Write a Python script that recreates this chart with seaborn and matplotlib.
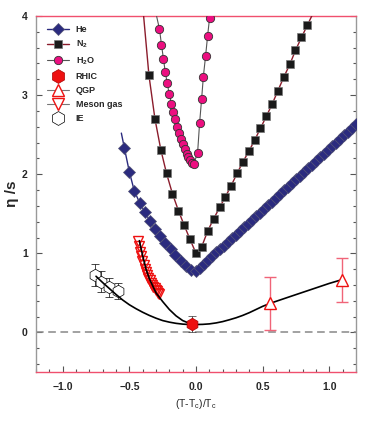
import matplotlib

matplotlib.use("Agg")

import matplotlib.pyplot as plt
import seaborn as sns
from matplotlib.lines import Line2D
from matplotlib.ticker import MultipleLocator

# ---- data -------------------------------------------------------------
# He: first point is line-only (curve continues above first marker)
he_x = [-0.56, -0.537, -0.50, -0.463, -0.423, -0.383, -0.346, -0.308, -0.269,
        -0.229, -0.19, -0.154, -0.114, -0.077, -0.037, 0.0, 0.03, 0.06, 0.09,
        0.12, 0.15, 0.18, 0.21, 0.24, 0.27, 0.30, 0.33, 0.36, 0.39, 0.42, 0.45,
        0.48, 0.51, 0.54, 0.57, 0.60, 0.63, 0.66, 0.69, 0.72, 0.75, 0.78, 0.81,
        0.84, 0.87, 0.90, 0.93, 0.96, 0.99, 1.02, 1.05, 1.08, 1.11, 1.14, 1.17,
        1.20]
he_y = [2.52, 2.33, 2.03, 1.79, 1.64, 1.52, 1.41, 1.31, 1.22, 1.135, 1.05,
        0.975, 0.90, 0.84, 0.79, 0.78, 0.82, 0.87, 0.92, 0.97, 1.02, 1.06,
        1.095, 1.14, 1.19, 1.235, 1.28, 1.33, 1.375, 1.42, 1.47, 1.515, 1.56,
        1.61, 1.655, 1.70, 1.75, 1.795, 1.84, 1.89, 1.935, 1.98, 2.03, 2.075,
        2.12, 2.17, 2.215, 2.26, 2.31, 2.355, 2.40, 2.45, 2.495, 2.54, 2.59,
        2.635]

# N2: first and last points are line-only (curve runs off the top)
n2_x = [-0.393, -0.353, -0.308, -0.264, -0.221, -0.177, -0.132, -0.09, -0.045,
        0.0, 0.042, 0.087, 0.132, 0.177, 0.219, 0.264, 0.308, 0.35, 0.396,
        0.44, 0.483, 0.527, 0.572, 0.614, 0.659, 0.704, 0.746, 0.791, 0.836,
        0.868]
n2_y = [4.0, 3.25, 2.70, 2.31, 2.01, 1.755, 1.54, 1.36, 1.177, 1.0, 1.08,
        1.28, 1.435, 1.58, 1.71, 1.857, 2.01, 2.15, 2.29, 2.43, 2.58, 2.73,
        2.89, 3.055, 3.23, 3.39, 3.565, 3.73, 3.886, 4.0]

# H2O: first point is line-only
h2o_x = [-0.296, -0.274, -0.259, -0.244, -0.231, -0.216, -0.201, -0.184,
         -0.169, -0.154, -0.139, -0.124, -0.112, -0.097, -0.085, -0.070,
         -0.057, -0.045, -0.032, -0.015, 0.012, 0.027, 0.042, 0.055, 0.072,
         0.087, 0.102]
h2o_y = [4.0, 3.835, 3.637, 3.456, 3.295, 3.152, 3.013, 2.894, 2.789, 2.692,
         2.60, 2.515, 2.443, 2.376, 2.316, 2.26, 2.215, 2.177, 2.148, 2.135,
         2.274, 2.65, 2.95, 3.232, 3.498, 3.75, 3.98]

meson_x = [-0.435, -0.427, -0.419, -0.411, -0.402, -0.393, -0.384, -0.375,
           -0.366, -0.357, -0.348, -0.339, -0.330, -0.320, -0.311, -0.302,
           -0.293, -0.284, -0.275]
meson_y = [1.16, 1.09, 1.02, 0.96, 0.90, 0.85, 0.80, 0.76, 0.72, 0.69, 0.66,
           0.63, 0.60, 0.58, 0.56, 0.54, 0.52, 0.50, 0.48]

rhic_x = [-0.027]
rhic_y = [0.105]
rhic_err = [0.1]

qgp_x = [0.557, 1.092]
qgp_y = [0.367, 0.662]
qgp_err = [0.34, 0.275]

ie_x = [-0.754, -0.711, -0.649, -0.587]
ie_y = [0.726, 0.641, 0.57, 0.527]
ie_err = [0.14, 0.13, 0.12, 0.10]

# black guide curves
fit_ie_x = [-0.75, -0.70, -0.65, -0.60, -0.55, -0.50, -0.45, -0.40, -0.35,
            -0.30, -0.25, -0.20, -0.15, -0.10, -0.05, 0.0, 0.05, 0.10, 0.15,
            0.20, 0.25, 0.30, 0.35, 0.40, 0.45, 0.50, 0.56, 0.70, 0.85, 1.0,
            1.09]
fit_ie_y = [0.71, 0.63, 0.555, 0.48, 0.41, 0.35, 0.30, 0.255, 0.215, 0.18,
            0.15, 0.13, 0.115, 0.105, 0.10, 0.10, 0.102, 0.108, 0.12, 0.137,
            0.16, 0.185, 0.215, 0.25, 0.29, 0.33, 0.37, 0.45, 0.535, 0.62,
            0.665]
fit_meson_x = [-0.425, -0.40, -0.375, -0.35, -0.30, -0.25, -0.20, -0.15,
               -0.10, -0.05, 0.0]
fit_meson_y = [1.16, 0.97, 0.80, 0.68, 0.50, 0.39, 0.29, 0.21, 0.15, 0.115,
               0.10]

# ---- styling -----------------------------------------------------------
sns.set_theme(style="ticks")
plt.rcParams["font.family"] = ["Liberation Sans", "DejaVu Sans"]
plt.rcParams["mathtext.fontset"] = "custom"
plt.rcParams["mathtext.rm"] = "Liberation Sans"
plt.rcParams["mathtext.bf"] = "Liberation Sans:bold"
plt.rcParams["mathtext.default"] = "rm"

NAVY = "#2b2b7f"
DARKRED = "#8b1c2c"
MAGENTA = "#ec0f80"
RED = "#ee1111"
PINK = "#f06478"
SPINE_RED = "#f0506e"

fig = plt.figure(figsize=(3.86, 4.26), dpi=100)
ax = fig.add_axes([0.0933, 0.1268, 0.829, 0.8356])

ax.axhline(0, color="#888888", lw=1.1, ls=(0, (5, 3)), zorder=1)

sns.lineplot(x=fit_ie_x, y=fit_ie_y, color="black", lw=1.2, sort=False,
             ax=ax, zorder=4)
sns.lineplot(x=fit_meson_x, y=fit_meson_y, color="black", lw=1.2, sort=False,
             ax=ax, zorder=4)

sns.lineplot(x=he_x, y=he_y, color=NAVY, lw=1.0, marker="D", ms=6.3,
             mfc=NAVY, mec="#555577", mew=0.5, markevery=list(range(1, len(he_x))),
             sort=False, ax=ax, zorder=3)
sns.lineplot(x=n2_x, y=n2_y, color=DARKRED, lw=1.0, marker="s", ms=5.4,
             mfc="#1a1a1a", mec="#777777", mew=0.5,
             markevery=list(range(1, len(n2_x) - 1)), sort=False, ax=ax, zorder=3)
sns.lineplot(x=h2o_x, y=h2o_y, color="#555555", lw=0.8, marker="o", ms=6,
             mfc=MAGENTA, mec="#333333", mew=0.6,
             markevery=list(range(1, len(h2o_x))), sort=False, ax=ax, zorder=3)

sns.lineplot(x=meson_x, y=meson_y, color=RED, lw=0, marker="v", ms=7,
             mfc="none", mec=RED, mew=1.0, sort=False, ax=ax, zorder=3)

ax.errorbar(ie_x, ie_y, yerr=ie_err, fmt="h", ms=9, mfc="white", mec="black",
            mew=0.5, ecolor="black", elinewidth=0.5, capsize=3, capthick=0.5,
            zorder=3)
ax.errorbar(rhic_x, rhic_y, yerr=rhic_err, fmt="h", ms=9, mfc=RED,
            mec="#aa0000", mew=0.5, ecolor="#333333", elinewidth=0.6,
            capsize=3, capthick=0.6, zorder=5)
ax.errorbar(qgp_x, qgp_y, yerr=qgp_err, fmt="^", ms=8, mfc="white", mec=RED,
            mew=1.0, ecolor=PINK, elinewidth=1.0, capsize=4, capthick=1.0,
            zorder=5)

ax.set_xlim(-1.2, 1.2)
ax.set_ylim(-0.5, 4.0)
ax.xaxis.set_major_locator(MultipleLocator(0.5))
ax.xaxis.set_minor_locator(MultipleLocator(0.1))
ax.yaxis.set_major_locator(MultipleLocator(1))
ax.yaxis.set_minor_locator(MultipleLocator(0.2))
ax.tick_params(which="both", direction="in", right=True, top=False,
               color="#555555", width=0.8, labelsize=7.5)
ax.tick_params(axis="x", pad=7)
ax.tick_params(axis="y", pad=6)
ax.tick_params(which="major", length=4)
ax.tick_params(which="minor", length=2.5)
for lab in ax.get_xticklabels() + ax.get_yticklabels():
    lab.set_fontweight("bold")

for side in ("top", "bottom"):
    ax.spines[side].set_color(SPINE_RED)
    ax.spines[side].set_linewidth(1.0)
for side in ("left", "right"):
    ax.spines[side].set_color("#999999")
    ax.spines[side].set_linewidth(1.0)

ax.set_xlabel(r"(T-T$_{\rm c}$)/T$_{\rm c}$", fontsize=7.5, labelpad=4)
ax.set_ylabel("η /s", fontsize=11, fontweight="bold", labelpad=2)

handles = [
    Line2D([], [], color=NAVY, lw=1.0, marker="D", ms=6.3, mfc=NAVY,
           mec="#555577", mew=0.5),
    Line2D([], [], color=DARKRED, lw=1.0, marker="s", ms=5.4, mfc="#1a1a1a",
           mec="#777777", mew=0.5),
    Line2D([], [], color="#555555", lw=0.8, marker="o", ms=6, mfc=MAGENTA,
           mec="#333333", mew=0.6),
    Line2D([], [], lw=0, marker="h", ms=10, mfc=RED, mec="#aa0000", mew=0.5),
    Line2D([], [], color="#777777", lw=0.8, marker="^", ms=8, mfc="white",
           mec=RED, mew=1.0),
    Line2D([], [], color="#777777", lw=0.8, marker="v", ms=8, mfc="white",
           mec=RED, mew=1.0),
    Line2D([], [], lw=0, marker="h", ms=10, mfc="white", mec="black", mew=0.5),
]
labels = ["He", r"N$_\mathbf{2}$", r"H$_\mathbf{2}$O", "RHIC", "QGP",
          "Meson gas", "IE"]
leg = ax.legend(handles, labels, loc="upper left", bbox_to_anchor=(0.034, 0.975),
                frameon=False, borderpad=0, borderaxespad=0, handlelength=2.5,
                handletextpad=0.7, labelspacing=0.55,
                prop={"size": 6.5, "weight": "bold"})

fig.savefig("out.png", dpi=100)
